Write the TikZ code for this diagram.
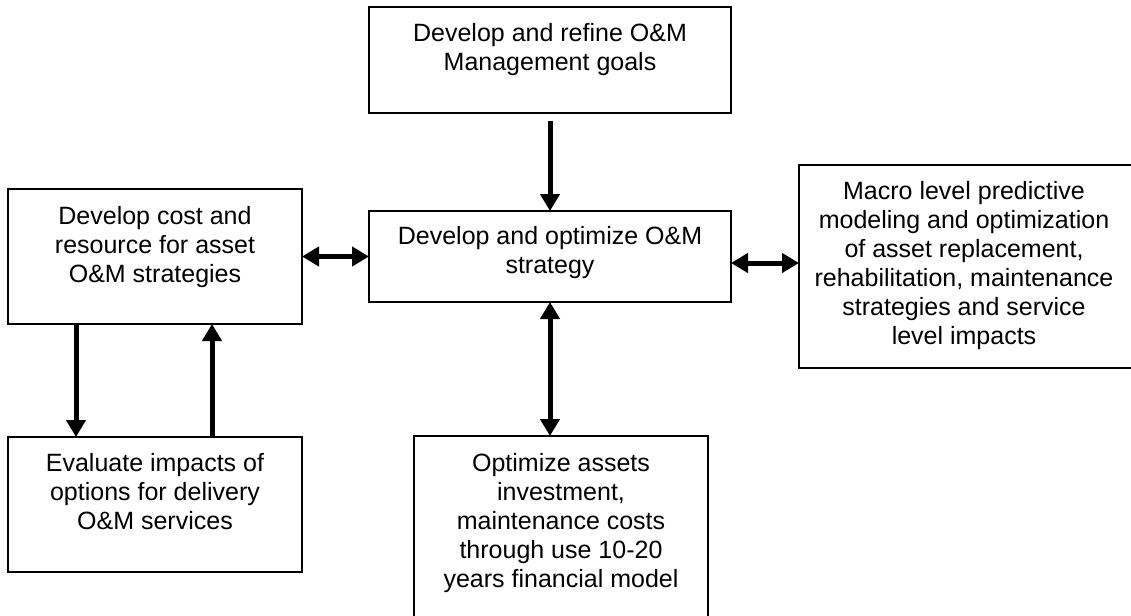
\documentclass[tikz,border=0pt]{standalone}
\usepackage{fontspec}
\setmainfont{Liberation Sans}
\usetikzlibrary{arrows.meta,calc}
\tikzset{
  box/.style={draw=black, line width=2pt, fill=white, inner sep=0pt, outer sep=0pt, rectangle},
  label text/.style={anchor=north, align=center, inner sep=0pt, font=\fontsize{25}{29}\selectfont},
  onearrow/.style={line width=5pt, -{Triangle[length=17pt,width=19pt]}},
  twoarrow/.style={line width=5pt, {Triangle[length=17pt,width=19pt]}-{Triangle[length=17pt,width=19pt]}}
}
\begin{document}
\begin{tikzpicture}[x=1pt, y=-1pt]
  \clip (0,0) rectangle (1131,615);
  \fill[white] (0,0) rectangle (1131,615);

  % boxes
  \node[box, minimum width=362pt, minimum height=106pt] (goals) at (550,60) {};
  \node[box, minimum width=362pt, minimum height=91pt] (center) at (550,256.5) {};
  \node[box, minimum width=294pt, minimum height=135pt] (left) at (155,256.5) {};
  \node[box, minimum width=294pt, minimum height=135pt] (evaluate) at (155,504.5) {};
  \node[box, minimum width=294pt, minimum height=189pt] (bottom) at (561,530.5) {};
  \node[box, minimum width=337pt, minimum height=203pt] (right) at (967.5,266.5) {};

  % box texts
  \node[label text] (goals-t) at ([yshift=-16pt]goals.north) {Develop and refine O\&M\\Management goals};
  \node[label text] (center-t) at ([yshift=-15pt]center.north) {Develop and optimize O\&M\\strategy};
  \node[label text] (left-t) at ([yshift=-17pt]left.north) {Develop cost and\\resource for asset\\O\&M strategies};
  \node[label text] (evaluate-t) at ([yshift=-16pt]evaluate.north) {Evaluate impacts of\\options for delivery\\O\&M services};
  \node[label text] (bottom-t) at ([yshift=-17pt]bottom.north) {Optimize assets\\investment,\\maintenance costs\\through use 10-20\\years financial model};
  \node[label text] (right-t) at ([xshift=-3.5pt,yshift=-16pt]right.north) {Macro level predictive\\modeling and optimization\\of asset replacement,\\rehabilitation, maintenance\\strategies and service\\level impacts};

  % connectors
  \draw[onearrow] ([yshift=-8pt]goals.south) -- (center.north);
  \draw[twoarrow] (left.east |- center.west) -- (center.west);
  \draw[twoarrow] ([yshift=-6.5pt]center.east) -- ([yshift=-6.5pt]center.east -| right.west);
  \draw[twoarrow] (center.south) -- (center.south |- bottom.north);
  \draw[onearrow] ([xshift=-79pt]left.south) -- ([xshift=-79pt]evaluate.north);
  \draw[onearrow] ([xshift=57pt]evaluate.north) -- ([xshift=57pt]left.south);
\end{tikzpicture}
\end{document}
